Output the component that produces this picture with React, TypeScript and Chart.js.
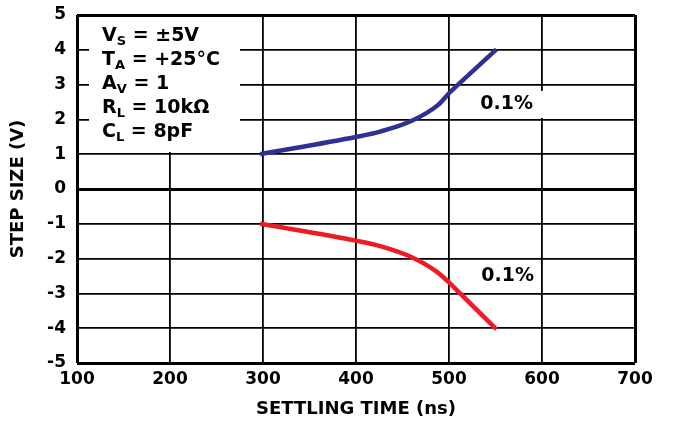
import React, { useEffect, useRef } from "react";
import { Chart, registerables } from "chart.js";

Chart.register(...registerables);

const posTime = [297, 401, 426, 460, 488, 501, 515, 551];
const posStep = [1.0, 1.5, 1.65, 1.96, 2.41, 2.78, 3.13, 4.01];
const negTime = [297, 401, 426, 460, 487, 501, 512, 551];
const negStep = [-1.0, -1.49, -1.64, -1.96, -2.38, -2.71, -3.0, -4.03];

const xTicks = [100, 200, 300, 400, 500, 600, 700];
const yTicks = [-5, -4, -3, -2, -1, 0, 1, 2, 3, 4, 5];

const conditions: [string, string, string][] = [
  ["V", "S", " = \u00b15V"],
  ["T", "A", " = +25\u00b0C"],
  ["A", "V", " = 1"],
  ["R", "L", " = 10k\u03a9"],
  ["C", "L", " = 8pF"],
];
const pctLabels = [
  { x: 562, y: 2.43, text: "0.1%", box: true },
  { x: 563, y: -2.5, text: "0.1%", box: false },
];

const FONT = "'DejaVu Sans', Verdana, sans-serif";

export default function App() {
  const ref = useRef<HTMLCanvasElement>(null);
  useEffect(() => {
    document.body.style.margin = "0";
    const annot = {
      id: "annot",
      beforeDatasetsDraw(chart: any) {
        const { ctx, chartArea, scales } = chart;
        ctx.save();
        // condition box
        ctx.fillStyle = "#fff";
        ctx.fillRect(chartArea.left + 12, chartArea.top + 2, 151, 135);
        ctx.fillStyle = "#000";
        ctx.textBaseline = "alphabetic";
        let y = chartArea.top + 26;
        for (const [a, sub, rest] of conditions) {
          let x = chartArea.left + 25;
          ctx.font = `bold 19px ${FONT}`;
          ctx.fillText(a, x, y);
          x += ctx.measureText(a).width;
          ctx.font = `bold 13px ${FONT}`;
          ctx.fillText(sub, x, y + 4);
          x += ctx.measureText(sub).width;
          ctx.font = `bold 19px ${FONT}`;
          ctx.fillText(rest, x, y);
          y += 24;
        }
        for (const l of pctLabels) {
          const px = scales.x.getPixelForValue(l.x);
          const py = scales.y.getPixelForValue(l.y);
          ctx.font = `bold 19px ${FONT}`;
          const w = ctx.measureText(l.text).width;
          if (l.box) {
            const right = scales.x.getPixelForValue(600) + 2;
            const left = px - w / 2 - 10;
            ctx.fillStyle = "#fff";
            ctx.fillRect(left, py - 13.5, right - left, 27);
          }
          ctx.fillStyle = "#000";
          ctx.textAlign = "center";
          ctx.textBaseline = "middle";
          ctx.fillText(l.text, px, py);
          ctx.textAlign = "left";
          ctx.textBaseline = "alphabetic";
        }
        ctx.restore();
      },
    };
    const chart = new Chart(ref.current!, {
      type: "scatter",
      data: {
        datasets: [
          {
            data: posTime.map((t, i) => ({ x: t, y: posStep[i] })),
            borderColor: "#2E3192",
            borderWidth: 4.5,
            showLine: true,
            pointRadius: 0,
            cubicInterpolationMode: "monotone",
          },
          {
            data: negTime.map((t, i) => ({ x: t, y: negStep[i] })),
            borderColor: "#ED1C24",
            borderWidth: 4.5,
            showLine: true,
            pointRadius: 0,
            cubicInterpolationMode: "monotone",
          },
        ],
      },
      options: {
        animation: false,
        responsive: false,
        layout: { padding: { top: 15, right: 38, left: 0, bottom: 0 } },
        plugins: { legend: { display: false }, tooltip: { enabled: false } },
        scales: {
          x: {
            type: "linear",
            min: 100,
            max: 700,
            afterBuildTicks: (s: any) => {
              s.ticks = xTicks.map((v) => ({ value: v }));
            },
            afterFit: (s: any) => {
              s.height = 58;
              s.paddingLeft = 0;
              s.paddingRight = 0;
            },
            ticks: {
              color: "#000",
              font: { family: FONT, size: 17, weight: "bold" },
              padding: 6,
              maxRotation: 0,
            },
            grid: {
              color: "#000",
              lineWidth: (c: any) => (c.tick && (c.tick.value === 100 || c.tick.value === 700) ? 3 : 1.8),
              drawTicks: false,
            },
            border: { display: false },
            title: {
              display: true,
              text: "SETTLING TIME (ns)",
              color: "#000",
              font: { family: FONT, size: 18, weight: "bold" },
              padding: { top: 0, bottom: 1 },
            },
          },
          y: {
            type: "linear",
            min: -5,
            max: 5,
            afterBuildTicks: (s: any) => {
              s.ticks = yTicks.map((v) => ({ value: v }));
            },
            afterFit: (s: any) => {
              s.width = 77;
              s.paddingTop = 0;
              s.paddingBottom = 0;
            },
            ticks: {
              color: "#000",
              font: { family: FONT, size: 17, weight: "bold" },
              padding: 11,
            },
            grid: {
              color: "#000",
              lineWidth: (c: any) =>
                c.tick && c.tick.value === 0 ? 3 : c.tick && (c.tick.value === -5 || c.tick.value === 5) ? 3 : 1.8,
              drawTicks: false,
            },
            border: { display: false },
            title: {
              display: true,
              text: "STEP SIZE (V)",
              color: "#000",
              font: { family: FONT, size: 18, weight: "bold" },
              padding: { top: 8, bottom: 0 },
            },
          },
        },
      },
      plugins: [annot],
    } as any);
    return () => chart.destroy();
  }, []);
  return (
    <div style={{ position: "absolute", left: 0, top: 0, width: 673, height: 421, background: "#fff" }}>
      <canvas ref={ref} width={673} height={421} style={{ width: 673, height: 421 }} />
    </div>
  );
}
